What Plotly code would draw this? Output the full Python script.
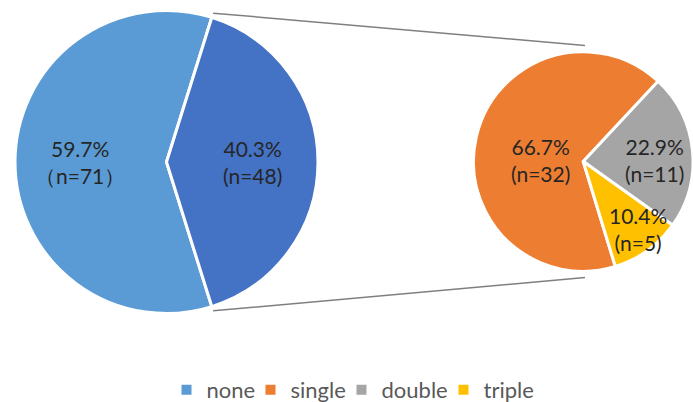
import math
import plotly.graph_objects as go

# ---------------- data ----------------
main_labels = ["none", "other"]
main_counts = [71, 48]
main_pct = ["59.7%", "40.3%"]
main_n = ["（n=71）", "(n=48)"]

sub_labels = ["single", "double", "triple"]
sub_counts = [32, 11, 5]
sub_pct = ["66.7%", "22.9%", "10.4%"]
sub_n = ["(n=32)", "(n=11)", "(n=5)"]

legend_labels = ["none", "single", "double", "triple"]

# ---------------- style ----------------
W, H = 693, 402
main_colors = ["#5B9BD5", "#4472C4"]
sub_colors = ["#ED7D31", "#A5A5A5", "#FFC000"]
legend_colors = ["#5B9BD5", "#ED7D31", "#A5A5A5", "#FFC000"]
legend_square_x = [186.5, 270.5, 361.5, 463.5]   # px, legend symbol centres
LEGEND_Y = 390
FONT = "Lato"

LC, LR = (166.5, 162.0), 151.0      # left pie centre / radius (px)
RC, RR = (585.0, 161.5), 111.0      # right pie centre / radius (px)
SUB_ROTATION = 163.0                # start of first sub slice, cw from 12 o'clock
main_label_r = [0.57, 0.57]
main_nudge = [(0, 0), (0, 0)]
sub_label_r = [0.43, 0.59, 0.73]
sub_nudge = [(2, 9), (4, 5), (6, 2)]


def px(x):
    return x / W


def py(y):
    return 1 - y / H


fig = go.Figure()

# rotation so that the "other" slice is centred on the horizontal (3 o'clock)
tot_main = sum(main_counts)
other_deg = 360.0 * main_counts[1] / tot_main
main_rotation = 90.0 + other_deg / 2.0

DR = 0.5
fig.add_trace(go.Pie(
    labels=main_labels, values=main_counts, sort=False, direction="clockwise",
    rotation=main_rotation, textinfo="none", showlegend=False,
    marker=dict(colors=main_colors, line=dict(color="white", width=3)),
    domain=dict(x=[px(LC[0] - LR - DR), px(LC[0] + LR + DR)],
                y=[py(LC[1] + LR + DR), py(LC[1] - LR - DR)]),
    hoverinfo="label+value+percent",
))

x1 = min(1.0, px(RC[0] + RR + DR))
fig.add_trace(go.Pie(
    labels=sub_labels, values=sub_counts, sort=False, direction="clockwise",
    rotation=SUB_ROTATION, textinfo="none", showlegend=False,
    marker=dict(colors=sub_colors, line=dict(color="white", width=3)),
    domain=dict(x=[px(RC[0] - RR - DR), x1],
                y=[py(RC[1] + RR + DR), py(RC[1] - RR - DR)]),
    hoverinfo="label+value+percent",
))


def add_labels(counts, rot, centre, radius, fracs, nudges, pcts, ns):
    tot = sum(counts)
    start = rot
    for c, f, (nx, ny), p, n in zip(counts, fracs, nudges, pcts, ns):
        span = 360.0 * c / tot
        mid = math.radians(start + span / 2.0)  # cw from top
        x = centre[0] + f * radius * math.sin(mid) + nx
        y = centre[1] - f * radius * math.cos(mid) + ny
        fig.add_annotation(x=px(x), y=py(y), xref="paper", yref="paper",
                           text=f"{p}<br>{n}", showarrow=False,
                           font=dict(family=FONT, size=21, color="#262626"),
                           xanchor="center", yanchor="middle")
        start += span


add_labels(main_counts, main_rotation, LC, LR, main_label_r, main_nudge,
           main_pct, main_n)
add_labels(sub_counts, SUB_ROTATION, RC, RR, sub_label_r, sub_nudge,
           sub_pct, sub_n)

# connector lines from the "other" slice edges to the top/bottom of the sub pie
half = math.radians(other_deg / 2.0)
sx = LC[0] + (LR + 5) * math.cos(half)
for sgn in (-1, 1):
    sy = LC[1] + sgn * (LR + 5) * math.sin(half)
    ey = RC[1] + sgn * (RR + 5)
    fig.add_shape(type="line", xref="paper", yref="paper",
                  x0=px(sx), y0=py(sy), x1=px(RC[0]), y1=py(ey),
                  line=dict(color="#7F7F7F", width=1.5))

# legend entries, one small legend each so spacing matches the original
legend_layout = {}
for i, (name, col, sxq) in enumerate(zip(legend_labels, legend_colors,
                                         legend_square_x)):
    key = "legend" if i == 0 else f"legend{i + 1}"
    fig.add_trace(go.Scatter(x=[None], y=[None], mode="markers", name=name,
                             legend=key,
                             marker=dict(symbol="square", size=10, color=col)))
    legend_layout[key] = dict(
        orientation="h", x=px(sxq - 20), xanchor="left",
        y=py(LEGEND_Y), yanchor="middle",
        font=dict(family=FONT, size=22, color="#595959"),
        bgcolor="rgba(0,0,0,0)", borderwidth=0)

fig.update_layout(
    width=W, height=H,
    margin=dict(l=0, r=0, t=0, b=0, autoexpand=False),
    paper_bgcolor="white", plot_bgcolor="white",
    xaxis=dict(visible=False), yaxis=dict(visible=False),
    showlegend=True,
    font=dict(family=FONT),
    **legend_layout,
)

fig.write_html("out.html")
